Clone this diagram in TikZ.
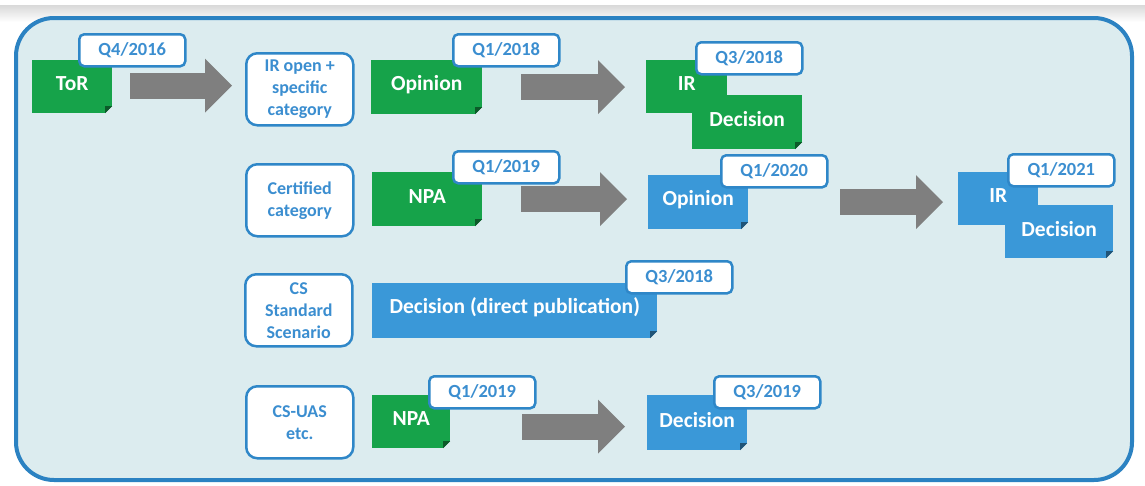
\documentclass[tikz,border=0pt]{standalone}
\usepackage{fontspec}
\setmainfont{Carlito}
\usetikzlibrary{arrows.meta}

\definecolor{pagebg}{HTML}{DCECEF}
\definecolor{frameblue}{HTML}{2B82C2}
\definecolor{docgreen}{HTML}{16A34A}
\definecolor{docblue}{HTML}{3A98D8}
\definecolor{tagblue}{HTML}{2F87C8}
\definecolor{labtext}{HTML}{3B8ED0}
\definecolor{flowgray}{HTML}{7F7F7F}

\tikzset{
  % coloured document sheet with a folded bottom-right corner
  doc/.style={anchor=north west, inner sep=0pt, fill=#1,
    path picture={
      \fill[pagebg] (path picture bounding box.south east) -- ++(-7pt,0) -- ++(7pt,7pt) -- cycle;
      \fill[#1!55!black] (path picture bounding box.south east) ++(-7pt,0) -- ++(0,7pt) -- ++(7pt,0) -- cycle;
    }},
  greendoc/.style={doc=docgreen},
  bluedoc/.style={doc=docblue},
  doctext/.style={text=white, font=\fontsize{21.5}{25}\selectfont\bfseries, inner sep=0pt},
  tag/.style={anchor=north west, draw=tagblue, fill=white, line width=2.5pt,
    rounded corners=5pt, text=labtext, font=\fontsize{18.5}{22}\selectfont\bfseries,
    inner sep=0pt, minimum width=106pt, minimum height=32pt},
  track/.style={anchor=north west, draw=tagblue, fill=white, line width=2.5pt,
    rounded corners=11pt, text=labtext, align=center,
    font=\fontsize{18}{22}\selectfont\bfseries, inner sep=0pt,
    minimum width=107pt, minimum height=72pt},
  flow/.style={draw=flowgray, line width=26pt,
    -{Triangle[length=27pt,width=54pt,line width=0pt]}},
}

\begin{document}
\begin{tikzpicture}[x=1pt,y=-1pt]
\useasboundingbox (0,0) rectangle (1145,485);
\fill[white] (0,0) rectangle (1145,485);
\shade[top color=gray!30, bottom color=white] (0,5) rectangle (1145,22);

% outer frame
\draw[frameblue, fill=pagebg, line width=4pt, rounded corners=38pt] (16,18) rectangle (1132,480);

% track labels
\node[track] (lab1) at (245,52)  {IR open +\\specific\\category};
\node[track] (lab2) at (245,163) {Certified\\category};
\node[track] (lab3) at (244,273) {CS\\Standard\\Scenario};
\node[track] (lab4) at (245,385) {CS-UAS\\etc.};

% row 1
\node[greendoc, minimum width=80pt, minimum height=53pt] (tor) at (32,60) {};
\node[doctext] (tor-t) at ([yshift=3pt]tor.center) {ToR};
\node[tag] (tor-q) at (78,33) {Q4/2016};

\node[greendoc, minimum width=111pt, minimum height=54pt] (op1) at (371,60) {};
\node[doctext] (op1-t) at ([yshift=3pt]op1.center) {Opinion};
\node[tag] (op1-q) at (452,33) {Q1/2018};

\node[greendoc, minimum width=81pt, minimum height=53pt] (ir1) at (646,60) {};
\node[greendoc, minimum width=110pt, minimum height=54pt] (dec1) at (692,95) {};
\node[doctext] (ir1-t) at ([yshift=3pt]ir1.center) {IR};
\node[doctext] (dec1-t) at ([yshift=3pt]dec1.center) {Decision};
\node[tag] (ir1-q) at (695,41) {Q3/2018};

% row 2
\node[greendoc, minimum width=110pt, minimum height=54pt] (npa1) at (372,172) {};
\node[doctext] (npa1-t) at ([yshift=3pt]npa1.center) {NPA};
\node[tag] (npa1-q) at (452,150) {Q1/2019};

\node[bluedoc, minimum width=100pt, minimum height=54pt] (op2) at (648,175) {};
\node[doctext] (op2-t) at ([yshift=3pt]op2.center) {Opinion};
\node[tag] (op2-q) at (720,154) {Q1/2020};

\node[bluedoc, minimum width=80pt, minimum height=53pt] (ir2) at (958,172) {};
\node[bluedoc, minimum width=108pt, minimum height=53pt] (dec2) at (1005,205) {};
\node[doctext] (ir2-t) at ([yshift=3pt]ir2.center) {IR};
\node[doctext] (dec2-t) at ([yshift=3pt]dec2.center) {Decision};
\node[tag] (ir2-q) at (1007,153) {Q1/2021};

% row 3
\node[bluedoc, minimum width=285pt, minimum height=55pt] (dec3) at (372,283) {};
\node[doctext] (dec3-t) at ([yshift=3pt]dec3.center) {Decision (direct publication)};
\node[tag] (dec3-q) at (625,260) {Q3/2018};

% row 4
\node[greendoc, minimum width=78pt, minimum height=53pt] (npa4) at (372,395) {};
\node[doctext] (npa4-t) at ([yshift=3pt]npa4.center) {NPA};
\node[tag] (npa4-q) at (428,375) {Q1/2019};

\node[bluedoc, minimum width=100pt, minimum height=55pt] (dec4) at (647,395) {};
\node[doctext] (dec4-t) at ([yshift=3pt]dec4.center) {Decision};
\node[tag] (dec4-q) at (713,375) {Q3/2019};

% flow arrows
\draw[flow, shorten <=18pt, shorten >=13pt] ([yshift=1pt]tor.east) -- ([yshift=1pt]tor.east -| lab1.west);
\draw[flow, shorten <=39pt, shorten >=21pt] (op1.east) -- (op1.east -| ir1.west);
\draw[flow, shorten <=39pt, shorten >=21pt] (npa1.east) -- (npa1.east -| op2.west);
\draw[flow, shorten <=92pt, shorten >=15pt] (op2.east) -- (op2.east -| ir2.west);
\draw[flow, shorten <=72pt, shorten >=22pt] ([yshift=-5pt]npa4.east) -- ([yshift=-5pt]npa4.east -| dec4.west);
\end{tikzpicture}
\end{document}
